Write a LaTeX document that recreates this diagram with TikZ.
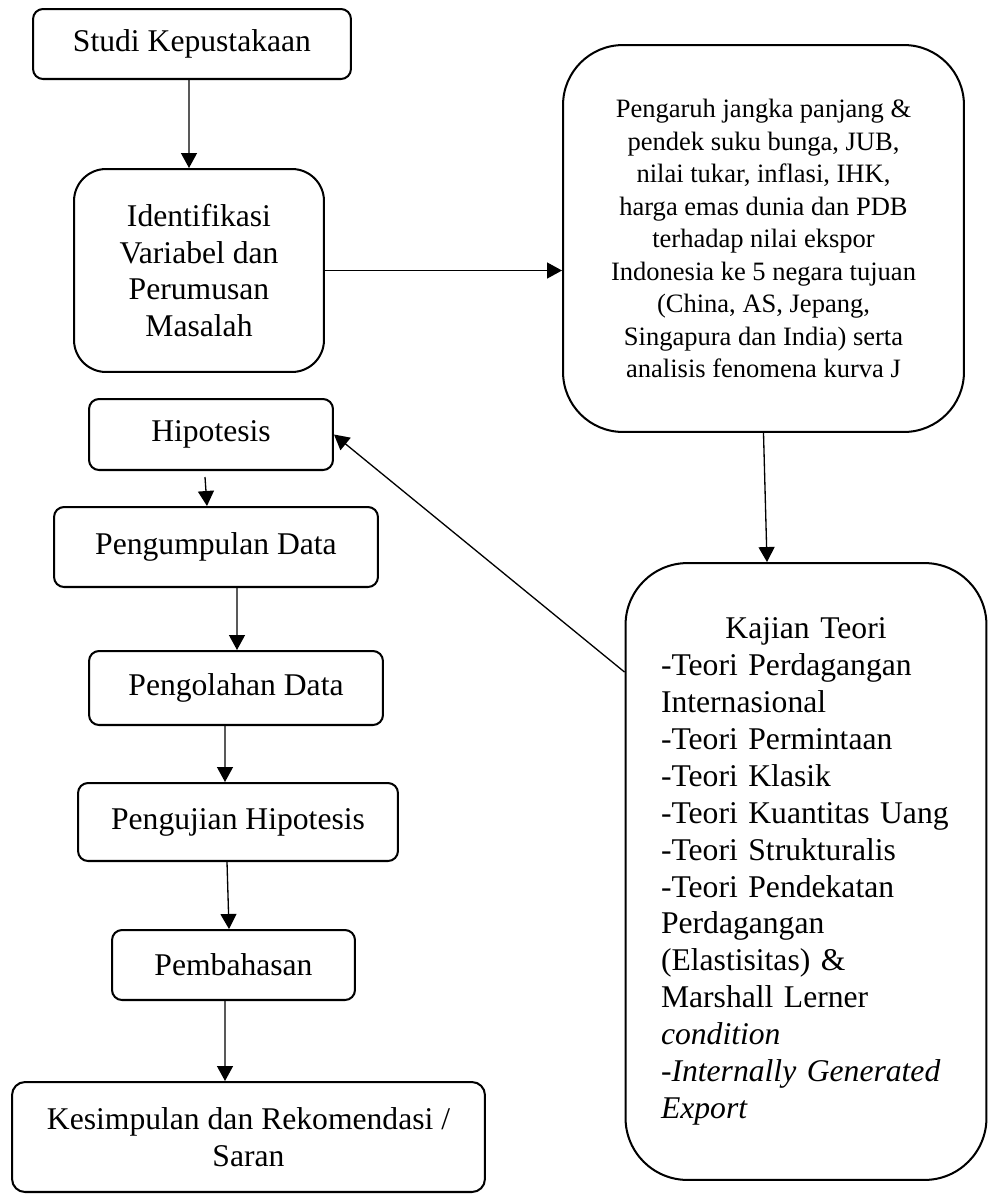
\documentclass[tikz,border=0pt]{standalone}
\usepackage{fontspec}
\setmainfont{Liberation Serif}
\usepackage{tikz}
\usetikzlibrary{arrows.meta}

\begin{document}
\begin{tikzpicture}[x=0.02cm,y=-0.02cm,
  box/.style={draw,line width=1.15pt,rounded corners=0.2cm,inner sep=0pt,align=center,
    font=\fontsize{18}{21}\selectfont},
  arr/.style={line width=0.75pt,-{Triangle[length=0.3cm,width=0.32cm]}}]
\useasboundingbox (0,0) rectangle (990,1194);
\node[box,minimum width=6.36cm,minimum height=1.4cm] (studi) at (192,44) {Studi Kepustakaan};
\node[box,rounded corners=0.64cm,minimum width=5cm,minimum height=4.06cm] (ident) at (199,270.5)
  {Identifikasi\\Variabel dan\\Perumusan\\Masalah};
\node[box,rounded corners=1.2cm,minimum width=8.02cm,minimum height=7.74cm,
  font=\fontsize{15.1}{18.5}\selectfont] (dampak) at (763.5,238.5)
  {Pengaruh jangka panjang \&\\pendek suku bunga, JUB,\\nilai tukar, inflasi, IHK,\\
   harga emas dunia dan PDB\\terhadap nilai ekspor\\Indonesia ke 5 negara tujuan\\
   (China, AS, Jepang,\\Singapura dan India) serta\\analisis fenomena kurva J};
\node[box,minimum width=4.88cm,minimum height=1.42cm] (hipo) at (211,434.5) {Hipotesis};
\node[box,minimum width=6.48cm,minimum height=1.6cm] (kumpul) at (216,547) {Pengumpulan Data};
\node[box,minimum width=5.88cm,minimum height=1.48cm] (olah) at (236,688) {Pengolahan Data};
\node[box,minimum width=6.4cm,minimum height=1.56cm] (uji) at (238,822) {Pengujian Hipotesis};
\node[box,minimum width=4.86cm,minimum height=1.4cm] (bahas) at (233.5,965) {Pembahasan};
\node[box,rounded corners=0.26cm,minimum width=9.46cm,minimum height=2.2cm] (simpul) at (248.5,1137)
  {Kesimpulan dan Rekomendasi /\\Saran};
\node[box,rounded corners=1.24cm,minimum width=7.22cm,minimum height=12.34cm,
  text width=5.8cm,align=left] (teori) at (806,871.5)
  {\makebox[\linewidth]{Kajian Teori}\\
   -Teori Perdagangan\\Internasional\\-Teori Permintaan\\-Teori Klasik\\
   -Teori Kuantitas Uang\\-Teori Strukturalis\\-Teori Pendekatan\\Perdagangan\\
   (Elastisitas) \&\\Marshall Lerner\\\textit{condition}\\
   \textit{-Internally Generated}\\\textit{Export}};
% alur
\draw[arr] ([xshift=-0.06cm]studi.south) -- ([xshift=-0.2cm]ident.north);
\draw[arr] (ident.east) -- (ident.east -| dampak.west);
\draw[arr] (dampak.south) -- ([xshift=-0.78cm]teori.north);
\draw[arr] ([yshift=3.99cm]teori.west) -- (hipo.east);
\draw[arr] ([xshift=-0.12cm,yshift=-0.12cm]hipo.south) -- ([xshift=-0.18cm]kumpul.north);
\draw[arr] ([xshift=0.42cm]kumpul.south) -- ([xshift=0.02cm]olah.north);
\draw[arr] ([xshift=-0.22cm]olah.south) -- ([xshift=-0.26cm]uji.north);
\draw[arr] ([xshift=-0.22cm]uji.south) -- ([xshift=-0.09cm]bahas.north);
\draw[arr] ([xshift=-0.17cm]bahas.south) -- ([xshift=-0.47cm]simpul.north);
\end{tikzpicture}
\end{document}
